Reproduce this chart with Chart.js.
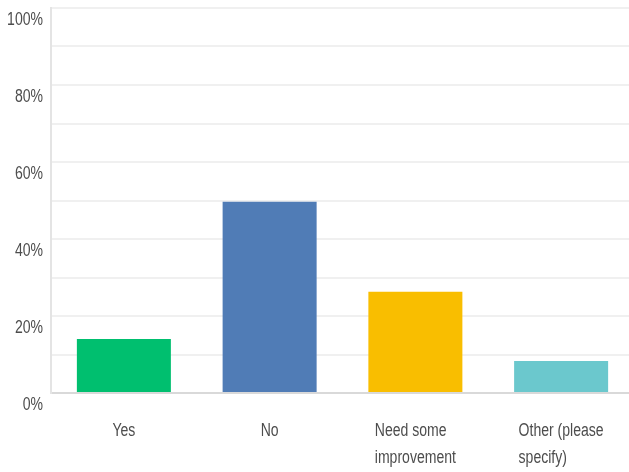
<!DOCTYPE html>
<html>
<head>
<meta charset="utf-8">
<script src="https://cdn.jsdelivr.net/npm/chart.js@4/dist/chart.umd.min.js"></script>
<style>
  html, body { margin: 0; padding: 0; background: #ffffff; overflow: hidden; }
  #wrap { position: relative; width: 634px; height: 472px; }
</style>
</head>
<body>
<div id="wrap"><canvas id="c"></canvas></div>
<script>
const categories = [["Yes"], ["No"], ["Need some", "improvement"], ["Other (please", "specify)"]];
const values = [14.0, 49.7, 26.3, 8.3];
const yTickValues = [0, 20, 40, 60, 80, 100];
const yTickLabels = ["0%", "20%", "40%", "60%", "80%", "100%"];
const barColors = ["#00BF6F", "#507CB6", "#F9BE00", "#6BC8CD"];

const FONT = "18px 'Liberation Sans', Arial, sans-serif";
const TEXT_COLOR = "#4d4d4d";
const SQUEEZE = 0.78;

// Draws the axis labels with a condensed look, positioned by Chart.js scales.
const condensedLabels = {
  id: 'condensedLabels',
  afterDraw(chart) {
    const ctx = chart.ctx;
    const xs = chart.scales.x;
    const ys = chart.scales.y;
    ctx.save();
    ctx.font = FONT;
    ctx.fillStyle = TEXT_COLOR;
    ctx.textBaseline = 'middle';
    // y tick labels
    yTickValues.forEach((v, i) => {
      const py = ys.getPixelForValue(v) + 12;
      const px = ys.right - 8;
      ctx.save();
      ctx.translate(px, py);
      ctx.scale(SQUEEZE, 1);
      ctx.textAlign = 'right';
      ctx.fillText(yTickLabels[i], 0, 0);
      ctx.restore();
    });
    // x category labels: block centred, lines left aligned
    ctx.textBaseline = 'alphabetic';
    const base = xs.top + 43;
    const lineH = 27;
    categories.forEach((lines, i) => {
      const cx = xs.getPixelForValue(i);
      let maxW = 0;
      lines.forEach(l => { maxW = Math.max(maxW, ctx.measureText(l).width * SQUEEZE); });
      const left = cx - maxW / 2;
      lines.forEach((l, j) => {
        ctx.save();
        ctx.translate(left, base + j * lineH);
        ctx.scale(SQUEEZE, 1);
        ctx.textAlign = 'left';
        ctx.fillText(l, 0, 0);
        ctx.restore();
      });
    });
    ctx.restore();
  }
};

new Chart(document.getElementById('c'), {
  type: 'bar',
  data: {
    labels: categories,
    datasets: [{
      data: values,
      backgroundColor: barColors,
      borderWidth: 0,
      barPercentage: 0.645,
      categoryPercentage: 1.0
    }]
  },
  options: {
    responsive: true,
    maintainAspectRatio: false,
    animation: false,
    layout: { padding: { top: 8, right: 0, left: 0, bottom: 0 } },
    plugins: { legend: { display: false }, tooltip: { enabled: false } },
    scales: {
      x: {
        afterFit: function (scale) { scale.height = 79; scale.paddingLeft = 0; scale.paddingRight = 0; },
        grid: { display: false, drawTicks: false },
        border: { display: true, color: '#d9d9d9', width: 2 },
        ticks: { display: false }
      },
      y: {
        min: 0,
        max: 100,
        afterFit: function (scale) { scale.width = 51; scale.paddingTop = 0; scale.paddingBottom = 0; },
        grid: { color: '#f0f0f0', lineWidth: 2, drawTicks: false },
        border: { display: true, color: '#e4e4e4', width: 2 },
        ticks: { display: false, stepSize: 10 }
      }
    }
  },
  plugins: [condensedLabels]
});
</script>
</body>
</html>
